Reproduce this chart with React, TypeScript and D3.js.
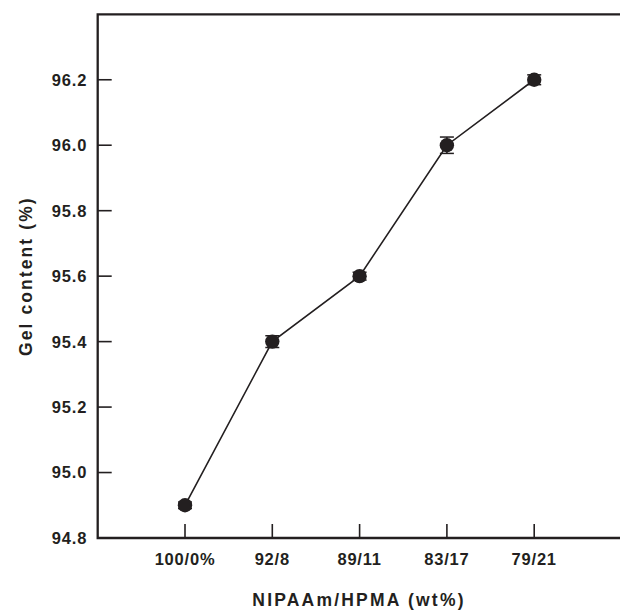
import { scaleLinear, scalePoint, line } from "d3";

// data
const categories = ["100/0%", "92/8", "89/11", "83/17", "79/21"];
const gelContent = [94.9, 95.4, 95.6, 96.0, 96.2];
const gelError = [0.01, 0.018, 0.012, 0.025, 0.015];
const yTicks = [94.8, 95.0, 95.2, 95.4, 95.6, 95.8, 96.0, 96.2];

const W = 620;
const H = 610;
const ink = "#231f20";
const font = "'Liberation Sans', Arial, Helvetica, sans-serif";

export default function App() {
  // x: one step of padding on both ends, right frame falls just off the page
  const x = scalePoint<string>().domain(categories).range([97.7, 621.5]).padding(1);
  const y = scaleLinear().domain([94.8, 96.4]).range([538, 14.3]);

  const [x0, x1] = x.range();
  const [yb, yt] = y.range();

  const path = line<number>()
    .x((_, i) => x(categories[i]) as number)
    .y((v) => y(v))(gelContent);

  return (
    <svg
      width={W}
      height={H}
      style={{ position: "absolute", left: 0, top: 0, background: "#fff" }}
    >
      {/* frame */}
      <path
        d={`M${x1},${yt}H${x0}V${yb}H${x1}V${yt}`}
        fill="none"
        stroke={ink}
        strokeWidth={2.3}
      />

      {/* y ticks */}
      {yTicks.map((t) => (
        <g key={t} transform={`translate(${x0},${y(t)})`}>
          <line x1={0} x2={14} stroke={ink} strokeWidth={1.6} />
          <text
            x={-10.5}
            dy="0.36em"
            textAnchor="end"
            fontFamily={font}
            fontWeight="bold"
            fontSize={16.5}
            letterSpacing={0.8}
            fill={ink}
          >
            {t.toFixed(1)}
          </text>
        </g>
      ))}

      {/* x ticks */}
      {categories.map((c) => (
        <g key={c} transform={`translate(${x(c)},${yb})`}>
          <line y1={0} y2={-14} stroke={ink} strokeWidth={1.6} />
          <text
            y={27}
            textAnchor="middle"
            fontFamily={font}
            fontWeight="bold"
            fontSize={16.5}
            letterSpacing={0.8}
            fill={ink}
          >
            {c}
          </text>
        </g>
      ))}

      {/* series */}
      <path d={path ?? ""} fill="none" stroke={ink} strokeWidth={1.6} />
      {gelContent.map((v, i) => {
        const cx = x(categories[i]) as number;
        const lo = y(v - gelError[i]);
        const hi = y(v + gelError[i]);
        return (
          <g key={categories[i]}>
            <line x1={cx} x2={cx} y1={lo} y2={hi} stroke={ink} strokeWidth={1.5} />
            <line x1={cx - 7} x2={cx + 7} y1={lo} y2={lo} stroke={ink} strokeWidth={1.5} />
            <line x1={cx - 7} x2={cx + 7} y1={hi} y2={hi} stroke={ink} strokeWidth={1.5} />
            <circle cx={cx} cy={y(v)} r={7.2} fill={ink} />
          </g>
        );
      })}

      {/* axis titles */}
      <text
        x={359}
        y={606}
        textAnchor="middle"
        fontFamily={font}
        fontWeight="bold"
        fontSize={17.5}
        letterSpacing={2.2}
        fill={ink}
      >
        NIPAAm/HPMA (wt%)
      </text>
      <text
        transform={`translate(32,${(yt + yb) / 2}) rotate(-90)`}
        textAnchor="middle"
        fontFamily={font}
        fontWeight="bold"
        fontSize={17.5}
        letterSpacing={2.1}
        fill={ink}
      >
        Gel content (%)
      </text>
    </svg>
  );
}
